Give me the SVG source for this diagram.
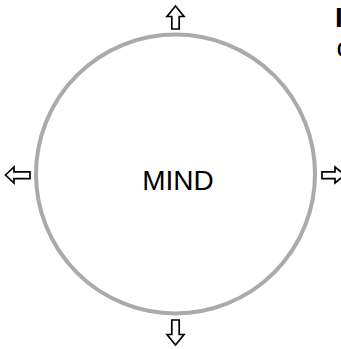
<svg xmlns="http://www.w3.org/2000/svg" width="341" height="349" viewBox="0 0 341 349">
<style>
.arrow{fill:#fff;stroke:#000;stroke-width:1.7;stroke-linejoin:miter}
text{font-family:'Liberation Sans',Arial,Helvetica,sans-serif;fill:#000}
</style>
<rect width="341" height="349" fill="#fff"/>
<g id="mind">
<circle cx="175.5" cy="174" r="139.5" fill="none" stroke="#aaaaaa" stroke-width="4"/>
<text x="178" y="190" font-size="28" text-anchor="middle">MIND</text>
</g>
<g id="connectors">
<polygon id="arrow-up" class="arrow" points="175.5,6 184,16.5 179.2,16.5 179.2,29 171.8,29 171.8,16.5 167,16.5"/>
<polygon id="arrow-down" class="arrow" points="175.5,345 184,334.5 179.2,334.5 179.2,320 171.8,320 171.8,334.5 167,334.5"/>
<polygon id="arrow-left" class="arrow" points="5.5,175 14,167 14,171.8 30,171.8 30,178.6 14,178.6 14,183"/>
<polygon id="arrow-right" class="arrow" points="345,175 335,167 335,171.8 322,171.8 322,178.6 335,178.6 335,183"/>
</g>
<g id="side-text">
<text x="335" y="27" font-size="28" font-weight="bold">I</text>
<text x="336.5" y="57" font-size="28">c</text>
</g>
</svg>
